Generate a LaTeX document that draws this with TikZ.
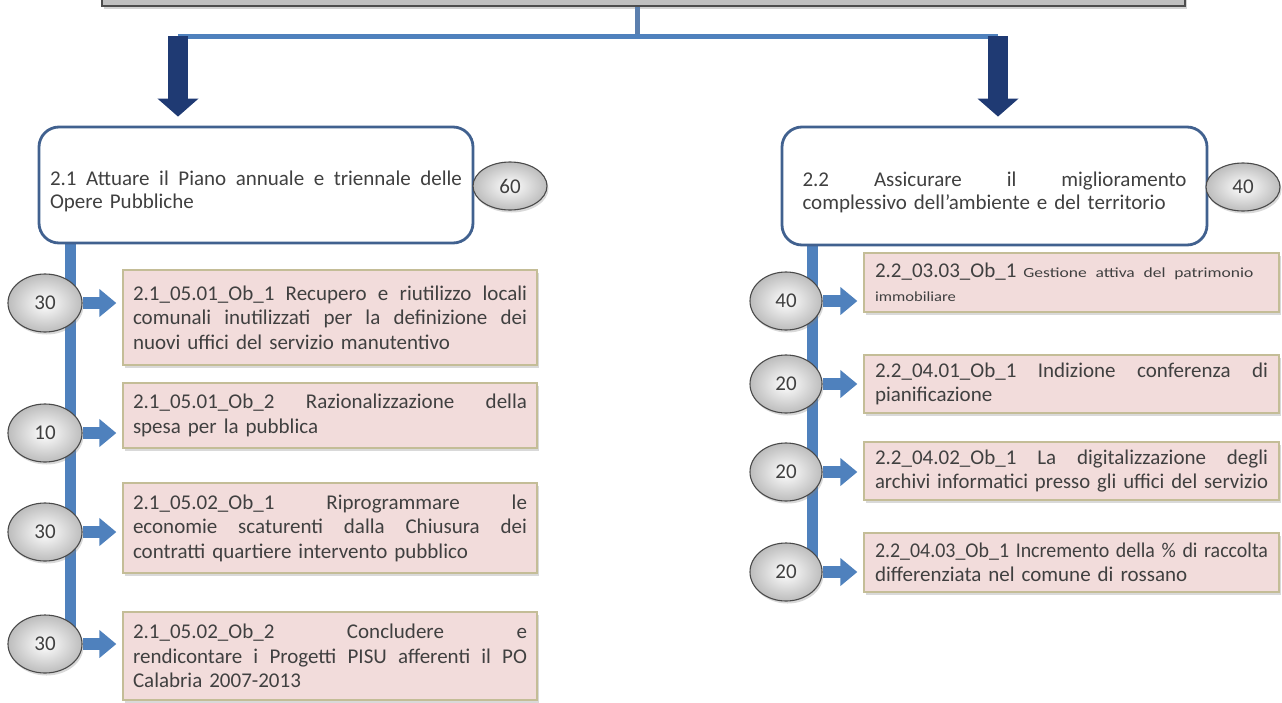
\documentclass[tikz,border=0pt]{standalone}
\usepackage{fontspec}
\setmainfont{Carlito}
\usepackage{graphicx}
\usetikzlibrary{shapes.geometric,shadows,arrows.meta,calc}
\pgfdeclarelayer{bg}
\pgfsetlayers{bg,main}
\definecolor{txt}{HTML}{404040}
\definecolor{lineblue}{HTML}{4F81BD}
\definecolor{hubblue}{HTML}{5B7FAE}
\definecolor{navy}{HTML}{1F3A73}
\definecolor{boxedge}{HTML}{41618F}
\definecolor{pinkfill}{HTML}{F2DCDB}
\definecolor{tanedge}{HTML}{C4BD97}
\definecolor{topgray}{HTML}{C0C0C0}
\definecolor{topedge}{HTML}{4D4D4D}
\definecolor{circedge}{HTML}{4A4A4A}
% justified line: spaces stretch to fill the line; too-wide lines are condensed
\newcommand\jl[1]{\leavevmode\sbox0{#1}\ifdim\wd0>\hsize\resizebox{\hsize}{\height}{#1}\else\hbox to\hsize{\spaceskip=0.23em plus 1fil\relax#1}\fi}
% last line: natural, condensed only if too wide
\newcommand\el[1]{\leavevmode\sbox0{#1}\ifdim\wd0>\hsize\resizebox{\hsize}{\height}{#1}\else\box0\fi}
\newcommand\smalltxt{\fontsize{14}{18}\selectfont}
\begin{document}
\begin{tikzpicture}[x=1pt,y=-1pt,
  topbox/.style={draw=topedge, line width=1.5pt, fill=topgray,
    drop shadow={opacity=0.35, shadow xshift=2pt, shadow yshift=-3pt}},
  mainbox/.style={draw=boxedge, line width=2.8pt, rounded corners=20pt, fill=white,
    align=left, inner xsep=0pt, inner ysep=2pt, text=txt,
    font=\fontsize{21}{23}\selectfont},
  subbox/.style={draw=tanedge, line width=1.3pt, fill=pinkfill,
    drop shadow={opacity=0.3, shadow xshift=2pt, shadow yshift=-3pt},
    align=left, inner xsep=0pt, inner ysep=2pt, text=txt,
    font=\fontsize{21}{24.5}\selectfont},
  lsub/.style={subbox, minimum width=414pt, text width=394pt},
  rsub/.style={subbox, minimum width=415pt, text width=393pt},
  circ/.style={ellipse, draw=circedge, line width=1.1pt, inner sep=0pt,
    inner color=white, outer color=black!26,
    drop shadow={opacity=0.3, shadow xshift=1.5pt, shadow yshift=-2.5pt},
    text=txt, font=\fontsize{21}{21}\selectfont},
  lcirc/.style={circ, minimum width=74pt, minimum height=58pt},
  rcirc/.style={circ, minimum width=72pt, minimum height=58pt},
  kcirc/.style={circ, minimum width=74pt, minimum height=48pt},
  hubline/.style={draw=hubblue, line width=5pt},
  hline/.style={draw=lineblue, line width=5pt},
  bigarrow/.style={draw=navy, line width=20pt, -{Triangle[width=40pt,length=18pt]}, shorten >=9pt},
  bar/.style={draw=lineblue, line width=11pt},
  sarrow/.style={draw=lineblue, line width=12pt, -{Triangle[width=27pt,length=17pt]}, shorten >=6pt}
]
\useasboundingbox (0,0) rectangle (1282,702);

% top box
\node[topbox, minimum width=1083pt, minimum height=50pt] (top) at (643.5,-19) {};

% coordinates of the connector hub
\coordinate (hub) at (637,36);
\coordinate (hl) at (178,36);
\coordinate (hr) at (998,36);
\coordinate (lbar) at (70,0);
\coordinate (rbar) at (812,0);

% main boxes
\node[mainbox, minimum width=434pt, minimum height=116pt, text width=412pt] (m1) at (256,185)
  {\jl{\rule{0pt}{27pt}2.1 Attuare il Piano annuale e triennale delle}\\\el{Opere Pubbliche}};
\node[mainbox, minimum width=425pt, minimum height=118pt, text width=384pt] (m2) at (994.5,186)
  {\jl{\rule{0pt}{27pt}2.2 Assicurare il miglioramento}\\\el{complessivo dell’ambiente e del territorio}};

\node[kcirc] (k1) at (510,186) {60};
\node[kcirc] (k2) at (1243,187) {40};

% left sub boxes
\node[lsub, minimum height=95pt] (b1) at (330,317.5)
  {\jl{2.1\_05.01\_Ob\_1 Recupero e riutilizzo locali}\\\jl{comunali inutilizzati per la definizione dei}\\\el{nuovi uffici del servizio manutentivo}};
\node[lsub, minimum height=65pt] (b2) at (330,415.5)
  {\jl{2.1\_05.01\_Ob\_2 Razionalizzazione della}\\\el{spesa per la pubblica}};
\node[lsub, minimum height=90pt] (b3) at (330,528)
  {\jl{2.1\_05.02\_Ob\_1 Riprogrammare le}\\\jl{economie scaturenti dalla Chiusura dei}\\\el{contratti quartiere intervento pubblico}};
\node[lsub, minimum height=88pt] (b4) at (330,656)
  {\jl{2.1\_05.02\_Ob\_2 Concludere e}\\\jl{rendicontare i Progetti PISU afferenti il PO}\\\el{Calabria 2007-2013}};

% right sub boxes
\node[rsub, minimum height=59pt, font=\fontsize{21}{24}\selectfont] (r1) at (1071.5,282.5)
  {\el{2.2\_03.03\_Ob\_1 \resizebox{230pt}{\height}{\smalltxt Gestione attiva del patrimonio}}\\\el{\resizebox{81pt}{\height}{\smalltxt immobiliare}}};
\node[rsub, minimum height=58pt] (r2) at (1071.5,384)
  {\jl{2.2\_04.01\_Ob\_1 Indizione conferenza di}\\\el{pianificazione}};
\node[rsub, minimum height=58pt] (r3) at (1071.5,471)
  {\jl{2.2\_04.02\_Ob\_1 La digitalizzazione degli}\\\el{archivi informatici presso gli uffici del servizio}};
\node[rsub, minimum height=59pt] (r4) at (1071.5,562.5)
  {\jl{2.2\_04.03\_Ob\_1 Incremento della \% di raccolta}\\\el{differenziata nel comune di rossano}};

% circles
\node[lcirc] (c1) at (45,303) {30};
\node[lcirc] (c2) at (45,433) {10};
\node[lcirc] (c3) at (45,532) {30};
\node[lcirc] (c4) at (45,644) {30};
\node[rcirc] (d1) at (786,301) {40};
\node[rcirc] (d2) at (786,384) {20};
\node[rcirc] (d3) at (786,472) {20};
\node[rcirc] (d4) at (786,572) {20};

% connectors
\draw[hubline] (top.south -| hub) -- (hub);
\draw[hline] (hl) -- (hr);
\draw[bigarrow] (hl) -- (hl |- m1.north);
\draw[bigarrow] (hr) -- (hr |- m2.north);

\begin{pgfonlayer}{bg}
\draw[bar] (lbar |- m1.south) -- (lbar |- c4);
\draw[bar] (rbar |- m2.south) -- (rbar |- d4);
\draw[sarrow] (c1) -- (c1 -| b1.west);
\draw[sarrow] (c2) -- (c2 -| b2.west);
\draw[sarrow] (c3) -- (c3 -| b3.west);
\draw[sarrow] (c4) -- (c4 -| b4.west);
\draw[sarrow] (d1) -- (d1 -| r1.west);
\draw[sarrow] (d2) -- (d2 -| r2.west);
\draw[sarrow] (d3) -- (d3 -| r3.west);
\draw[sarrow] (d4) -- (d4 -| r4.west);
\end{pgfonlayer}
\end{tikzpicture}
\end{document}
